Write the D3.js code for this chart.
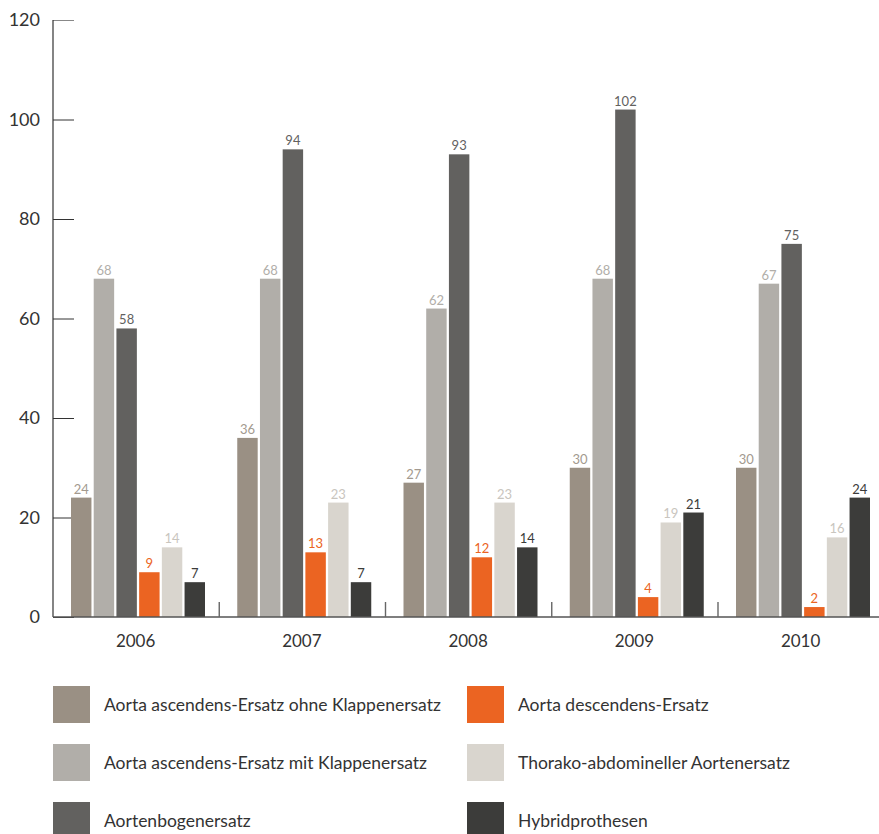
<!DOCTYPE html>
<html>
<head>
<meta charset="utf-8">
<script src="https://cdn.jsdelivr.net/npm/d3@7/dist/d3.min.js"></script>
<style>
  html, body { margin: 0; padding: 0; background: #fff; }
  svg { display: block; font-family: Lato, "Open Sans", sans-serif; }
</style>
</head>
<body>
<svg id="chart" width="879" height="834"></svg>
<script>
// Operationen an der Aorta, 2006–2010
const years = ["2006", "2007", "2008", "2009", "2010"];
const seriesNames = [
  "Aorta ascendens-Ersatz ohne Klappenersatz",
  "Aorta ascendens-Ersatz mit Klappenersatz",
  "Aortenbogenersatz",
  "Aorta descendens-Ersatz",
  "Thorako-abdomineller Aortenersatz",
  "Hybridprothesen"
];
const ascendensOhne = [24, 36, 27, 30, 30];
const ascendensMit = [68, 68, 62, 68, 67];
const bogen = [58, 94, 93, 102, 75];
const descendens = [9, 13, 12, 4, 2];
const thorakoAbdominal = [14, 23, 23, 19, 16];
const hybrid = [7, 7, 14, 21, 24];
const yTicks = [0, 20, 40, 60, 80, 100, 120];

const seriesValues = [ascendensOhne, ascendensMit, bogen, descendens, thorakoAbdominal, hybrid];
const colors = ["#9a9084", "#b1aea9", "#62615f", "#eb6422", "#d9d5ce", "#3c3c3a"];
const labelColors = ["#a39a8f", "#b1aea9", "#62615f", "#eb6422", "#c9c5be", "#3c3c3a"];

const svg = d3.select("#chart");
const plotLeft = 53, plotTop = 20, plotBottom = 617;
const bandW = 166.25;

const y = d3.scaleLinear().domain([0, 120]).range([plotBottom, plotTop]);
const x0 = d3.scaleBand().domain(years).range([plotLeft, plotLeft + bandW * years.length]).padding(0);
const x1 = d3.scaleBand().domain(d3.range(seriesNames.length)).range([18, 152]).paddingInner(0.1);

// y-axis: ticks point into the plot
const yAxis = d3.axisRight(y).tickValues(yTicks).tickSize(21).tickFormat("");
const gy = svg.append("g").attr("transform", `translate(${plotLeft},0)`).call(yAxis);
gy.select(".domain").remove();
gy.selectAll(".tick line").attr("stroke", (d) => d === 120 ? "#888" : "#333").attr("stroke-width", 1);
svg.append("line")
  .attr("x1", plotLeft).attr("x2", plotLeft).attr("y1", y(120)).attr("y2", y(0))
  .attr("stroke", "#333").attr("stroke-width", 1.2);

svg.append("g").selectAll("text").data(yTicks).join("text")
  .attr("x", 40).attr("y", (d) => y(d)).attr("dy", "0.36em")
  .attr("text-anchor", "end").attr("font-size", 18).attr("fill", "#333")
  .text((d) => d);

// bars
const groups = svg.append("g").selectAll("g").data(years).join("g")
  .attr("transform", (d) => `translate(${x0(d)},0)`);

groups.selectAll("rect").data((d, i) => seriesValues.map((s, k) => ({ k, v: s[i] }))).join("rect")
  .attr("x", (d) => x1(d.k)).attr("width", x1.bandwidth())
  .attr("y", (d) => y(d.v)).attr("height", (d) => y(0) - y(d.v))
  .attr("fill", (d) => colors[d.k]);

groups.selectAll("text.val").data((d, i) => seriesValues.map((s, k) => ({ k, v: s[i] }))).join("text")
  .attr("class", "val")
  .attr("x", (d) => x1(d.k) + x1.bandwidth() / 2).attr("y", (d) => y(d.v) - 4)
  .attr("text-anchor", "middle").attr("font-size", 13)
  .attr("fill", (d) => labelColors[d.k])
  .text((d) => d.v);

// baseline and category separators
svg.append("line")
  .attr("x1", plotLeft).attr("x2", 879).attr("y1", y(0)).attr("y2", y(0))
  .attr("stroke", "#555").attr("stroke-width", 1.3);
svg.append("g").selectAll("line").data(years.slice(1)).join("line")
  .attr("x1", (d) => x0(d)).attr("x2", (d) => x0(d))
  .attr("y1", y(0) - 15).attr("y2", y(0))
  .attr("stroke", "#666").attr("stroke-width", 1.4);

svg.append("g").selectAll("text").data(years).join("text")
  .attr("x", (d) => x0(d) + x0.bandwidth() / 2 - 0.5).attr("y", 647)
  .attr("text-anchor", "middle").attr("font-size", 17).attr("fill", "#333")
  .text((d) => d);

// legend: two columns of three entries
const legend = svg.append("g").selectAll("g").data(seriesNames).join("g")
  .attr("transform", (d, i) => `translate(${i < 3 ? 53 : 467},${686 + (i % 3) * 58})`);
legend.append("rect").attr("width", 37).attr("height", 37).attr("fill", (d, i) => colors[i]);
legend.append("text").attr("x", 51).attr("y", 18.5).attr("dy", "0.36em")
  .attr("font-size", 17.5).attr("fill", "#333").text((d) => d);
</script>
</body>
</html>
